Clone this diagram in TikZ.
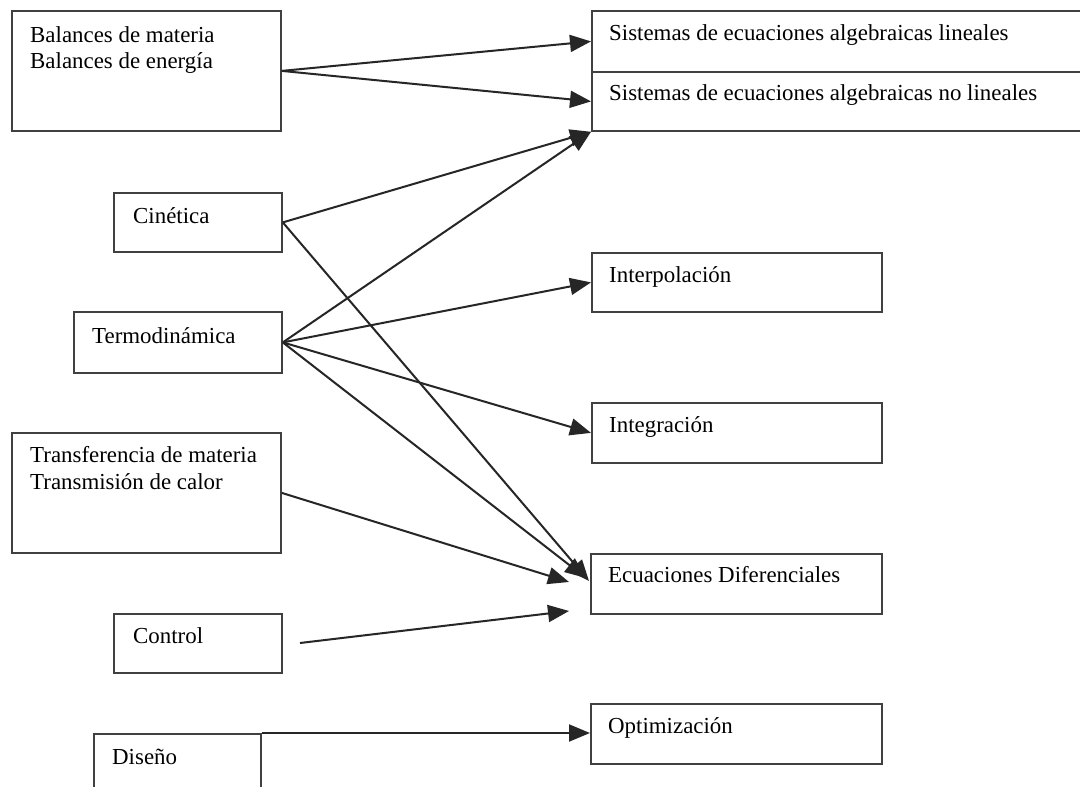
\documentclass[tikz,border=0pt]{standalone}
\usepackage{fontspec}
\setmainfont{Liberation Serif}
\usetikzlibrary{arrows.meta,calc}
\begin{document}
\begin{tikzpicture}[x=1pt,y=-1pt,
  box/.style={draw=black!75,line width=1.8pt,rectangle,inner sep=0pt,anchor=north west},
  txt/.style={anchor=base west,inner sep=0pt,font=\fontsize{22.9}{26.3}\selectfont},
  arr/.style={draw=black!85,line width=2pt,-{Triangle[length=21pt,width=17pt]}}]
\useasboundingbox (0,0) rectangle (1080,787);
\clip (0,0) rectangle (1080,787);
\fill[white] (0,0) rectangle (1080,787);

% left column
\node[box,minimum width=269pt,minimum height=120pt] (bal) at (11,10) {};
\node[txt] (balA) at (30,42) {Balances de materia};
\node[txt] (balB) at (30,68) {Balances de energía};

\node[box,minimum width=168pt,minimum height=59pt] (cin) at (113,192) {};
\node[txt] (cinT) at (133,223) {Cinética};

\node[box,minimum width=208pt,minimum height=61pt] (ter) at (73,311) {};
\node[txt] (terT) at (92,343) {Termodinámica};

\node[box,minimum width=269pt,minimum height=120pt] (tra) at (11,432) {};
\node[txt] (traA) at (30,462) {Transferencia de materia};
\node[txt] (traB) at (30,489) {Transmisión de calor};

\node[box,minimum width=168pt,minimum height=59pt] (con) at (113,613) {};
\node[txt] (conT) at (133,643) {Control};

\node[box,minimum width=167pt,minimum height=80pt] (dis) at (93,733) {};
\node[txt] (disT) at (112,764) {Diseño};

% right column
\node[box,minimum width=500pt,minimum height=61pt] (sisl) at (591,10) {};
\node[txt] (sislT) at (609,40) {Sistemas de ecuaciones algebraicas lineales};
\node[box,minimum width=500pt,minimum height=59pt] (sisn) at (591,71) {};
\node[txt] (sisnT) at (609,100) {Sistemas de ecuaciones algebraicas no lineales};

\node[box,minimum width=290pt,minimum height=59pt] (itp) at (591,252) {};
\node[txt] (itpT) at (609,282) {Interpolación};

\node[box,minimum width=290pt,minimum height=60pt] (itg) at (591,402) {};
\node[txt] (itgT) at (609,432) {Integración};

\node[box,minimum width=291pt,minimum height=60pt] (ecu) at (590,553) {};
\node[txt] (ecuT) at (608,582) {Ecuaciones Diferenciales};

\node[box,minimum width=291pt,minimum height=60pt] (opt) at (590,703) {};
\node[txt] (optT) at (608,733) {Optimización};

% free ends of connectors
\coordinate (ecuA) at (589,581);
\coordinate (ecuB) at (586,578);
\coordinate (ecuC) at (569,582);
\coordinate (ecuD) at (569,611);
\coordinate (conS) at (300,643);

% connectors
\draw[arr] (bal.east) -- (sisl.west);
\draw[arr] (bal.east) -- (sisn.west);
\draw[arr] (cin.east) -- (sisn.south west);
\draw[arr] (cin.east) -- (ecuA);
\draw[arr] (ter.east) -- (sisn.south west);
\draw[arr] (ter.east) -- (itp.west);
\draw[arr] (ter.east) -- (itg.west);
\draw[arr] (ter.east) -- (ecuB);
\draw[arr] (tra.east) -- (ecuC);
\draw[arr] (conS) -- (ecuD);
\draw[arr] (dis.north east) -- (opt.north west |- optT.base);
\end{tikzpicture}
\end{document}
